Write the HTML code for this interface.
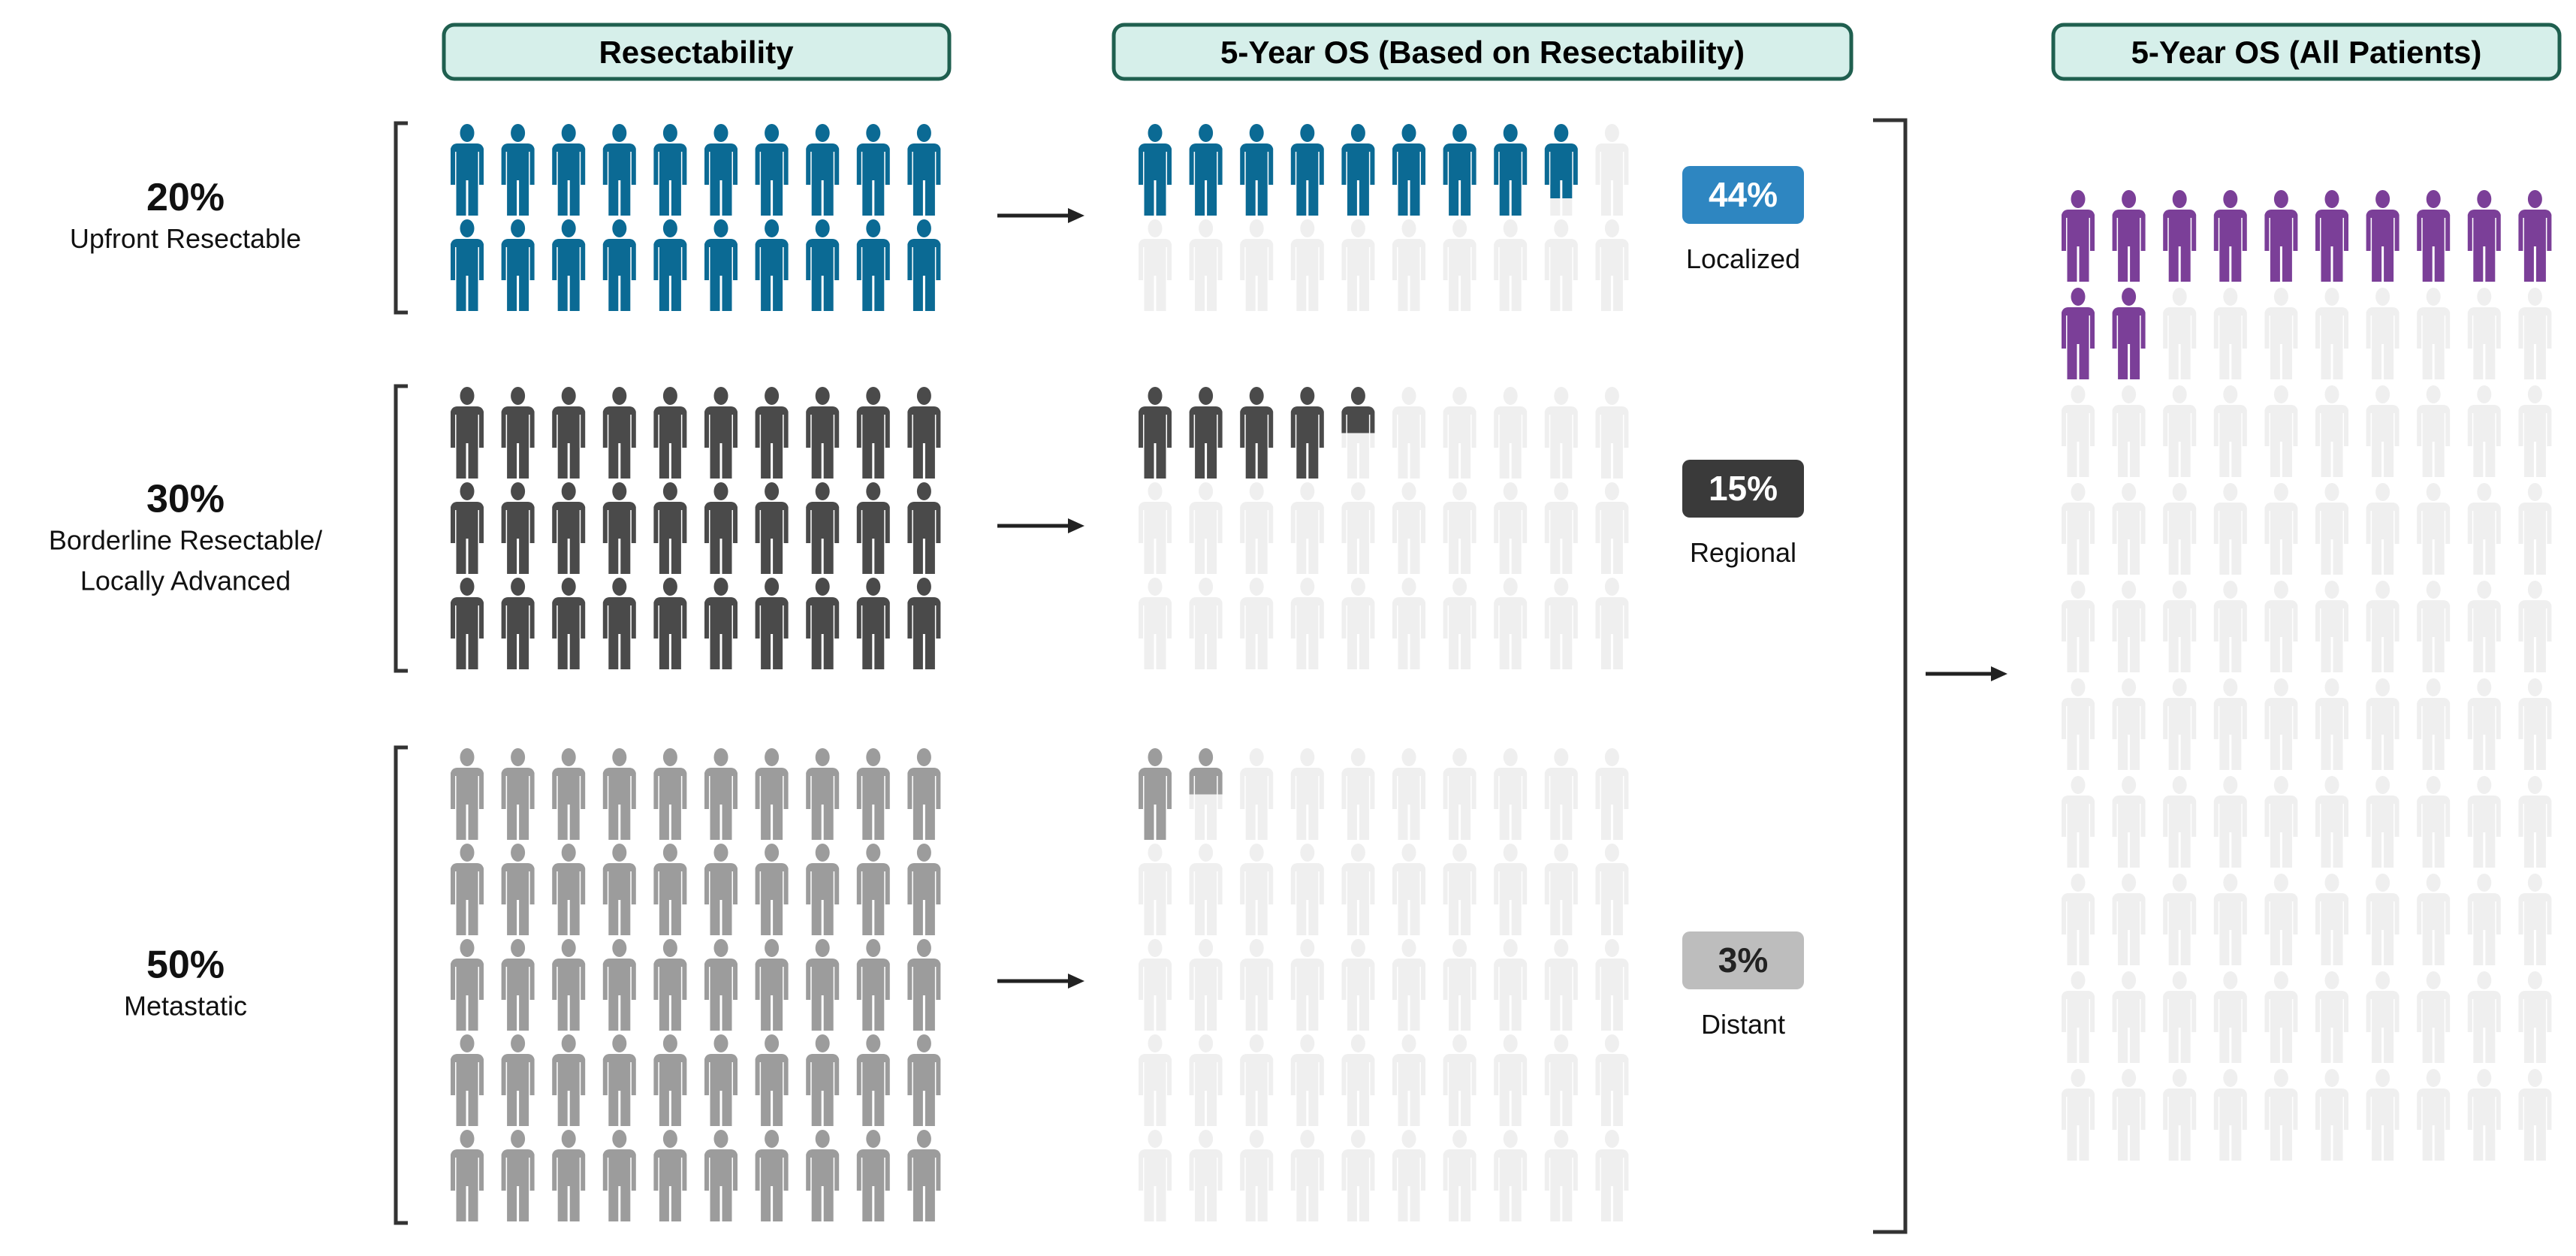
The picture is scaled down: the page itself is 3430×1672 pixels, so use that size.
<!DOCTYPE html>
<html><head><meta charset="utf-8"><style>
html,body{margin:0;padding:0;background:#fff;}
svg{display:block;font-family:"Liberation Sans",sans-serif;}
</style></head><body>
<svg id="chart" width="3430" height="1672" viewBox="0 0 3430 1672" xmlns="http://www.w3.org/2000/svg">
<defs>
<symbol id="person" viewBox="0 0 52 125">
<ellipse cx="26" cy="13" rx="9.5" ry="12"/>
<path d="M13 27 H39 Q46 27 48 34 V82 H42 V38 H40.5 V123 H27.5 V76 H24.5 V123 H11.5 V38 H10 V82 H4 V34 Q6 27 13 27 Z"/>
</symbol>
</defs>
<g>
<rect x="591" y="33" width="673" height="72" rx="14" fill="#d6efea" stroke="#1f5f4f" stroke-width="5"/>
<text x="927" y="84" text-anchor="middle" font-size="42" font-weight="bold">Resectability</text></g>
<g>
<rect x="1483" y="33" width="982" height="72" rx="14" fill="#d6efea" stroke="#1f5f4f" stroke-width="5"/>
<text x="1974" y="84" text-anchor="middle" font-size="42" font-weight="bold">5-Year OS (Based on Resectability)</text></g>
<g>
<rect x="2734" y="33" width="674" height="72" rx="14" fill="#d6efea" stroke="#1f5f4f" stroke-width="5"/>
<text x="3071" y="84" text-anchor="middle" font-size="42" font-weight="bold">5-Year OS (All Patients)</text></g>
<g id="marks"></g>
</svg>
<script>
const groupNames = ["Upfront Resectable", "Borderline Resectable/Locally Advanced", "Metastatic"];
const groupShares = [20, 30, 50];
const groupSurvival = [44, 15, 3];
const stageNames = ["Localized", "Regional", "Distant"];
const overallSurvival = [12];

const NS = "http://www.w3.org/2000/svg";
const root = document.getElementById("marks");
const colors = ["#0b6a94", "#4a4a4a", "#9c9c9c"];
const badgeFill = ["#2e86c1", "#3a3a3a", "#bdbdbd"];
const badgeText = ["#fff", "#fff", "#222"];
const light = "#efefef";
const COLS = 10, colStep = 67.6, rowStep = 127, iw = 52, ih = 125;
const groupTops = [164, 514, 995];
function el(tag, attrs, parent) {
  const e = document.createElementNS(NS, tag);
  for (const k in attrs) e.setAttribute(k, attrs[k]);
  (parent || root).appendChild(e);
  return e;
}
let clipId = 0;
function person(x, y, color, frac, name) {
  const g = el("g", {});
  
  
  if (frac >= 1) { el("use", {href: "#person", x: x, y: y, width: iw, height: ih, fill: color}, g); return; }
  el("use", {href: "#person", x: x, y: y, width: iw, height: ih, fill: light}, g);
  if (frac > 0) {
    const id = "c" + (clipId++);
    const cp = el("clipPath", {id: id, clipPathUnits: "userSpaceOnUse"}, g);
    el("rect", {x: x - 2, y: y - 2, width: iw + 4, height: ih * frac + 2}, cp);
    const cg = el("g", {"clip-path": "url(#" + id + ")"}, g);
    el("use", {href: "#person", x: x, y: y, width: iw, height: ih, fill: color}, cg);
  }
}
function grid(x0, y0, n, filled, color, step, name) {
  for (let i = 0; i < n; i++) {
    const r = Math.floor(i / COLS), c = i % COLS;
    const f = Math.max(0, Math.min(1, filled - i));
    person(x0 + c * colStep, y0 + r * step, color, f, name);
  }
}
function text(x, y, s, size, weight, fill, name) {
  const t = el("text", {x: x, y: y, "text-anchor": "middle", "font-size": size, "font-weight": weight || "normal", fill: fill || "#111"});
  t.textContent = s;
  
  
  return t;
}
function arrow(x1, x2, y, name) {
  const g = el("g", {});
  
  
  el("line", {x1: x1, y1: y, x2: x2 - 18, y2: y, stroke: "#222", "stroke-width": 5}, g);
  el("polygon", {points: (x2 - 22) + "," + (y - 10) + " " + x2 + "," + y + " " + (x2 - 22) + "," + (y + 10), fill: "#222"}, g);
}
groupShares.forEach((share, gi) => {
  const n = share, rows = Math.ceil(n / COLS), top = groupTops[gi];
  const h = (rows - 1) * rowStep + ih;
  grid(596, top, n, n, colors[gi], rowStep, "resectability-icon-" + gi);
  const b = el("path", {d: "M543 " + top + " H527 V" + (top + h) + " H543", fill: "none", stroke: "#333", "stroke-width": 5});
  
  
  const mid = top + h / 2;
  text(247, mid - 10 - (gi === 1 ? 12 : 0), share + "%", 52, "bold", "#111", "group-share-" + gi);
  const parts = groupNames[gi].split("/");
  parts.forEach((p, pi) => text(247, mid + 40 - (gi === 1 ? 12 : 0) + pi * 54, p + (pi < parts.length - 1 ? "/" : ""), 36, "normal", "#111", "group-label-" + gi));
  arrow(1328, 1444, top + (gi === 0 ? 123 : gi === 1 ? 186 : 311), "group-arrow-" + gi);
  grid(1512, top, n, n * groupSurvival[gi] / 100, colors[gi], rowStep, "survival-icon-" + gi);
  const by = [221, 612, 1240][gi];
  const r = el("rect", {x: 2240, y: by, width: 162, height: 77, rx: 10, fill: badgeFill[gi]});
  
  
  text(2321, by + 54, groupSurvival[gi] + "%", 46, "bold", badgeText[gi], "survival-value-" + gi);
  text(2321, by + 136, stageNames[gi], 36, "normal", "#111", "stage-label-" + gi);
});
const bb = el("path", {d: "M2494 160 H2537 V1640 H2494", fill: "none", stroke: "#333", "stroke-width": 5});


arrow(2564, 2673, 897, "overall-arrow");
grid(2741, 252, 100, overallSurvival[0], "#7b3f98", 130, "overall-icon");
</script>
</body></html>
